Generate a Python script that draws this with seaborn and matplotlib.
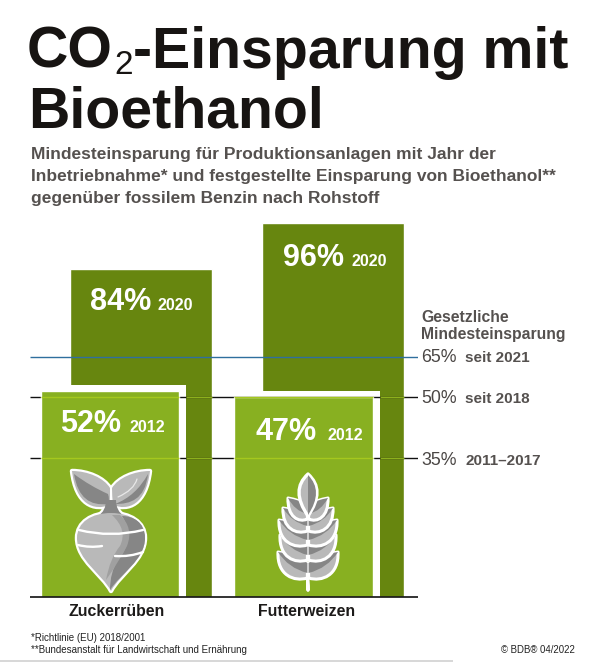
import matplotlib
matplotlib.use('Agg')
import pandas as pd
import matplotlib.pyplot as plt
import seaborn as sns
from matplotlib.patches import PathPatch, Rectangle
from matplotlib.path import Path

# Data
rohstoffe = ['Zuckerrüben', 'Futterweizen']
# drawn heights (the original is not quite to scale)
hoehe_2020 = [84.2, 96.0]
hoehe_2012 = [52.9, 51.4]
label_2020 = ['84%', '96%']
label_2012 = ['52%', '47%']
jahr_2020 = ['2020', '2020']
jahr_2012 = ['2012', '2012']
schwelle_hoehe = [61.8, 51.4, 35.7]
schwelle_wert = ['65%', '50%', '35%']
schwelle_text = ['seit 2021', 'seit 2018', '2011–2017']

DARK = '#67860f'
LIGHT = '#88b021'
GREY_TXT = '#55514f'
W, H = 602, 662

sns.set_theme(style='white')
plt.rcParams['font.family'] = ['Liberation Sans', 'DejaVu Sans']

fig = plt.figure(figsize=(W / 100, H / 100), dpi=100, facecolor='white')
# main axes: px 30..418 horizontally, baseline at 597, 96 units at 223.5
ax = fig.add_axes([30 / W, (H - 597) / H, 388 / W, 373.5 / H])
ax.patch.set_alpha(0)

df = pd.DataFrame({'rohstoff': rohstoffe, 'h2020': hoehe_2020, 'h2012': hoehe_2012})

sns.barplot(data=df, x='rohstoff', y='h2020', color=DARK, saturation=1, width=142 / 192, ax=ax)
sns.barplot(data=df, x='rohstoff', y='h2012', color=LIGHT, saturation=1, width=138.5 / 192, ax=ax)
dark_bars = list(ax.containers[0])
light_bars = list(ax.containers[1])
ax.set_xlim((30 - 140.7) / 192, (418 - 140.7) / 192)
ax.set_ylim(0, 96)
ax.set_xlabel('')
ax.set_ylabel('')
ax.set_xticks([])
ax.set_yticks([])
sns.despine(ax=ax, left=True, bottom=True)

gap_x, gap_y = 7 / 192, 1.55
for b in dark_bars:
    b.set_zorder(1)
for b, versatz in zip(light_bars, [-0.16, -0.151]):
    b.set_x(b.get_x() + versatz)
    b.set_zorder(4)
    ax.add_patch(Rectangle((b.get_x() - 0.02, 0), b.get_width() + gap_x + 0.02, b.get_height() + gap_y,
                           fc='white', ec='none', zorder=2))

# threshold lines
ax.hlines(schwelle_hoehe[1:], *ax.get_xlim(), color='#111111', lw=1, zorder=3)
for y in schwelle_hoehe[1:]:
    for b, d in zip(light_bars, dark_bars):
        ax.hlines(y, b.get_x(), b.get_x() + b.get_width(), color='#a5c81e', lw=1, zorder=5)
        ax.hlines(y, b.get_x() + b.get_width() + gap_x, d.get_x() + d.get_width(), color='#8db01c', lw=1, zorder=5)
ax.hlines(schwelle_hoehe[0], *ax.get_xlim(), color='#2f6f9e', lw=1, zorder=6)
ax.hlines(0, *ax.get_xlim(), color='#111111', lw=1.2, zorder=6, clip_on=False)

# overlay in pixel coordinates for texts and icons
ov = fig.add_axes([0, 0, 1, 1])
ov.set_xlim(0, W)
ov.set_ylim(H, 0)
ov.axis('off')
ov.patch.set_alpha(0)


def txt(x, y, s, size, color='white', weight='bold', ha='left'):
    return ov.text(x, y, s, fontsize=size, color=color, fontweight=weight, ha=ha, va='baseline')


# title
TITLE = '#171412'
renderer = fig.canvas.get_renderer()
t1 = txt(27, 68, 'CO', 41.2, TITLE)
x = t1.get_window_extent(renderer).x1 + 1
t2 = txt(x, 74, '2', 24, TITLE, weight='normal')
x = t2.get_window_extent(renderer).x1 + 1
txt(x, 68, '-Einsparung mit', 41.2, TITLE)
txt(28, 127, 'Bioethanol', 41.2, TITLE)

# subtitle
txt(31, 159, 'Mindesteinsparung für Produktionsanlagen mit Jahr der', 12.5, GREY_TXT)
txt(31, 181, 'Inbetriebnahme* und festgestellte Einsparung von Bioethanol**', 12.5, GREY_TXT)
txt(31, 203, 'gegenüber fossilem Benzin nach Rohstoff', 12.5, GREY_TXT)

# bar labels
wert_x = [90, 283, 60, 256]
jahr_x = [158, 352, 130, 327]
wert_y = [310, 266, 432, 440]
for wx, jx, yy, w, j in zip(wert_x, jahr_x, wert_y, label_2020 + label_2012, jahr_2020 + jahr_2012):
    txt(wx, yy, w, 22)
    txt(jx, yy, j, 11.6)

# right labels
txt(421, 322, 'Gesetzliche', 11.3, GREY_TXT)
txt(421, 339, 'Mindesteinsparung', 11.3, GREY_TXT)
for yy, w, s in zip([362, 403, 465], schwelle_wert, schwelle_text):
    txt(421, yy, w, 12.8, '#4a4644', 'normal')
    txt(465, yy, s, 11, GREY_TXT)

# category labels
txt(116.5, 616, rohstoffe[0], 11.4, '#1c1a19', ha='center')
txt(306.5, 616, rohstoffe[1], 11.4, '#1c1a19', ha='center')

# footnotes
txt(31, 641, '*Richtlinie (EU) 2018/2001', 7.05, '#222222', 'normal')
txt(31, 653, '**Bundesanstalt für Landwirtschaft und Ernährung', 7.05, '#222222', 'normal')
txt(501, 653, '© BDB® 04/2022', 6.9, '#222222', 'normal')
ov.add_patch(Rectangle((0, 660), 453, 2, fc='#d8d8d8', ec='none'))

# icon helpers
G_LIGHT = '#b9b9b9'
G_MID = '#a0a0a0'
G_DARK = '#868686'


def blob(start, segments, fc, ec='none', lw=0, z=7):
    # closed path, a segment is (end,) for a line, (c, end) for a quadratic, (c1, c2, end) for a cubic curve
    verts = [start]
    codes = [Path.MOVETO]
    for seg in segments:
        verts += list(seg)
        kind = {1: Path.LINETO, 2: Path.CURVE3, 3: Path.CURVE4}[len(seg)]
        codes += [kind] * len(seg)
    verts.append(start)
    codes.append(Path.CLOSEPOLY)
    ov.add_patch(PathPatch(Path(verts, codes), fc=fc, ec=ec, lw=lw, zorder=z, joinstyle='round'))


def stroke(a, c, b, lw=2.0, color='white', z=9):
    ov.add_patch(PathPatch(Path([a, c, b], [Path.MOVETO, Path.CURVE3, Path.CURVE3]), fc='none', ec=color,
                           lw=lw, zorder=z, capstyle='round'))


# beet icon
leaf_l = ((72, 471), [((88, 471), (104, 478), (110, 488)), ((110, 496), (110, 505)), ((94, 511), (76, 505), (72, 471))])
leaf_r = ((150, 471), [((134, 471), (118, 478), (112, 488)), ((112, 496), (113, 505)), ((128, 511), (146, 505), (150, 471))])
stem = ((106, 500), [((106, 511), (98, 516)), ((111, 520), (124, 516)), ((116, 511), (116, 500))])
body = ((111, 513), [((92, 513), (77, 522), (77, 538)), ((77, 560), (102, 574), (111, 591)),
                     ((120, 574), (145, 560), (145, 538)), ((145, 522), (130, 513), (111, 513))])
for shape in (leaf_l, leaf_r, stem, body):
    blob(shape[0], shape[1], G_LIGHT, 'white', 3.2, 7)
for shape, col in ((leaf_l, G_LIGHT), (leaf_r, G_LIGHT), (stem, G_DARK), (body, G_LIGHT)):
    blob(shape[0], shape[1], col, 'none', 0, 8)
# dark parts of the leaves
blob((74, 474), [((90, 486), (108, 494)), ((110, 500), (108, 504)), ((90, 506), (78, 498), (74, 474))], G_DARK, z=8.5)
blob((148, 474), [((145, 500), (130, 504), (115, 504)), ((136, 496), (148, 474))], G_DARK, z=8.5)
stroke((118, 497), (134, 490), (137, 479), 0.9, '#e8e8e8')
# dark side of the body
blob((122, 516), [((136, 538), (118, 560)), ((110, 572), (110, 590)), ((120, 574), (145, 560), (145, 538)),
                  ((145, 522), (133, 516), (122, 516))], G_DARK, z=8.5)
blob((112, 515), [((128, 530), (120, 546)), ((110, 558), (106, 580)), ((120, 560), (127, 546)),
                  ((134, 528), (120, 515))], G_MID, z=8.6)
stroke((79, 530), (111, 538), (143, 530), 1.7)
stroke((78, 545), (90, 548), (102, 546), 1.7)
stroke((115, 556), (130, 557), (143, 552), 1.7)


# wheat icon
def wheat_leaf(tip, joint, z):
    dx = joint[0] - tip[0]
    dy = joint[1] - tip[1]
    schulter = (joint[0], joint[1] - 15)
    top = (tip[0] + dx * 0.6, tip[1] + dy * 0.1)
    c1 = (tip[0] - dx * 0.04, tip[1] + dy * 0.9)
    c2 = (tip[0] + dx * 0.55, joint[1] + 4)
    blob(tip, [(top, schulter), (joint,), (c2, c1, tip)], G_LIGHT, 'white', 2.2, z)
    mid = (tip[0] + dx * 0.35, tip[1] + dy * 0.62)
    blob(tip, [(top, schulter), ((joint[0], joint[1] - 5),), (mid, tip)], G_DARK, 'none', 0, z + 0.01)


MID_X = 308
blob((MID_X - 2, 572), [((MID_X + 2, 572), (MID_X + 2, 590)), ((MID_X, 594), (MID_X - 2, 590))], 'white', z=7)
# tip x, tip y, joint y from bottom to top
reihen = [(278, 552, 578), (280, 535, 560), (279, 520, 545), (283, 508, 531), (288, 498, 519)]
for i, (tx, ty, jy) in enumerate(reihen):
    z = 7 + i * 0.1
    wheat_leaf((tx, ty), (MID_X - 0.6, jy), z)
    wheat_leaf((2 * MID_X - tx, ty), (MID_X + 0.6, jy), z)
top_seg = [((326, 490), (MID_X, 516)), ((290, 490), (MID_X, 474))]
blob((MID_X, 474), top_seg, G_LIGHT, 'white', 2.4, 7.8)
blob((MID_X, 475), [((324, 491), (MID_X, 515))], G_DARK, 'none', 0, 7.82)

fig.savefig('out.png', dpi=100)
